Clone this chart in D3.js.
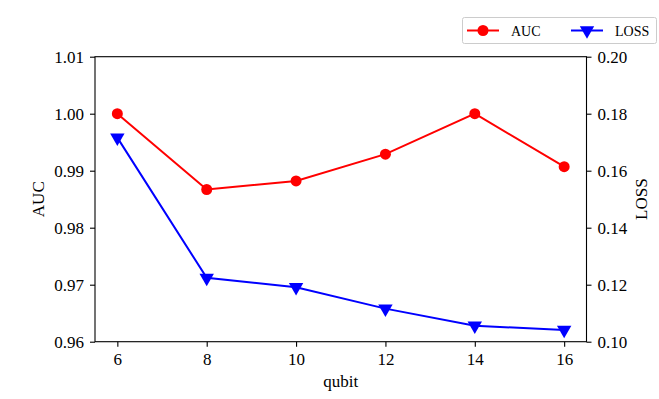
<!DOCTYPE html>
<html>
<head>
<meta charset="utf-8">
<script src="https://cdn.jsdelivr.net/npm/d3@7"></script>
<style>
  body { margin: 0; background: #fff; }
  svg, svg text { font-family: "Liberation Serif", "DejaVu Serif", serif; }
</style>
</head>
<body>
<svg width="659" height="399"></svg>
<script>
const qubits = [6, 8, 10, 12, 14, 16];
const auc = [1.0, 0.9867, 0.9882, 0.9929, 1.0, 0.9907];
const loss = [0.1716, 0.1224, 0.1191, 0.1116, 0.1056, 0.1041];
const aucTicks = [0.96, 0.97, 0.98, 0.99, 1.0, 1.01];
const lossTicks = [0.10, 0.12, 0.14, 0.16, 0.18, 0.20];

const svg = d3.select("svg");
const m = { left: 95, right: 586.5, top: 56.7, bottom: 341.7 };

const x = d3.scaleLinear().domain([5.5, 16.5]).range([m.left, m.right]);
const yL = d3.scaleLinear().domain([0.96, 1.01]).range([m.bottom, m.top]);
const yR = d3.scaleLinear().domain([0.10, 0.20]).range([m.bottom, m.top]);

// axes
const styleAxis = g => {
  g.attr("font-family", "Liberation Serif, serif").attr("font-size", 17);
  g.select(".domain").remove();
  g.selectAll("line").attr("stroke", "#000").attr("stroke-width", 1.1);
  g.selectAll("text").attr("fill", "#000");
};

svg.append("g")
  .attr("transform", `translate(0,${m.bottom})`)
  .call(d3.axisBottom(x).tickValues(qubits).tickSize(5).tickPadding(6))
  .call(styleAxis);

svg.append("g")
  .attr("transform", `translate(${m.left},0)`)
  .call(d3.axisLeft(yL).tickValues(aucTicks).tickSize(5).tickPadding(6).tickFormat(d3.format(".2f")))
  .call(styleAxis);

svg.append("g")
  .attr("transform", `translate(${m.right},0)`)
  .call(d3.axisRight(yR).tickValues(lossTicks).tickSize(5).tickPadding(6).tickFormat(d3.format(".2f")))
  .call(styleAxis);

svg.append("rect")
  .attr("x", m.left).attr("y", m.top)
  .attr("width", m.right - m.left).attr("height", m.bottom - m.top)
  .attr("fill", "none").attr("stroke", "#000").attr("stroke-width", 1.1);

// labels
svg.append("text")
  .attr("x", (m.left + m.right) / 2).attr("y", 387)
  .attr("text-anchor", "middle").attr("font-size", 17).text("qubit");
svg.append("text")
  .attr("transform", `translate(44,${(m.top + m.bottom) / 2}) rotate(-90)`)
  .attr("text-anchor", "middle").attr("font-size", 17).text("AUC");
svg.append("text")
  .attr("transform", `translate(647,${(m.top + m.bottom) / 2}) rotate(-90)`)
  .attr("text-anchor", "middle").attr("font-size", 17).text("LOSS");

// series
const tri = d3.symbol().type(d3.symbolTriangle).size(90);

const aucData = qubits.map((q, i) => [q, auc[i]]);
const lossData = qubits.map((q, i) => [q, loss[i]]);

svg.append("path").datum(aucData)
  .attr("fill", "none").attr("stroke", "red").attr("stroke-width", 2)
  .attr("d", d3.line().x(d => x(d[0])).y(d => yL(d[1])));
svg.append("g").selectAll("circle").data(aucData).join("circle")
  .attr("cx", d => x(d[0])).attr("cy", d => yL(d[1])).attr("r", 5.5).attr("fill", "red");

svg.append("path").datum(lossData)
  .attr("fill", "none").attr("stroke", "blue").attr("stroke-width", 2)
  .attr("d", d3.line().x(d => x(d[0])).y(d => yR(d[1])));
svg.append("g").selectAll("path").data(lossData).join("path")
  .attr("d", tri)
  .attr("transform", d => `translate(${x(d[0])},${yR(d[1])}) rotate(180)`)
  .attr("fill", "blue");

// legend
const lg = svg.append("g");
lg.append("rect")
  .attr("x", 462.5).attr("y", 17.5).attr("width", 194).attr("height", 26).attr("rx", 2)
  .attr("fill", "#fff").attr("stroke", "#ccc").attr("stroke-width", 1);
const items = [
  { name: "AUC", color: "red", x0: 467, shape: "circle" },
  { name: "LOSS", color: "blue", x0: 571, shape: "tri" }
];
items.forEach(it => {
  lg.append("line").attr("x1", it.x0).attr("x2", it.x0 + 32).attr("y1", 30.5).attr("y2", 30.5)
    .attr("stroke", it.color).attr("stroke-width", 2);
  if (it.shape === "circle") {
    lg.append("circle").attr("cx", it.x0 + 16).attr("cy", 30.5).attr("r", 5.5).attr("fill", it.color);
  } else {
    lg.append("path").attr("d", tri)
      .attr("transform", `translate(${it.x0 + 16},30.5) rotate(180)`).attr("fill", it.color);
  }
  lg.append("text").attr("x", it.x0 + 44).attr("y", 35.5).attr("font-size", 14).text(it.name);
});
</script>
</body>
</html>
